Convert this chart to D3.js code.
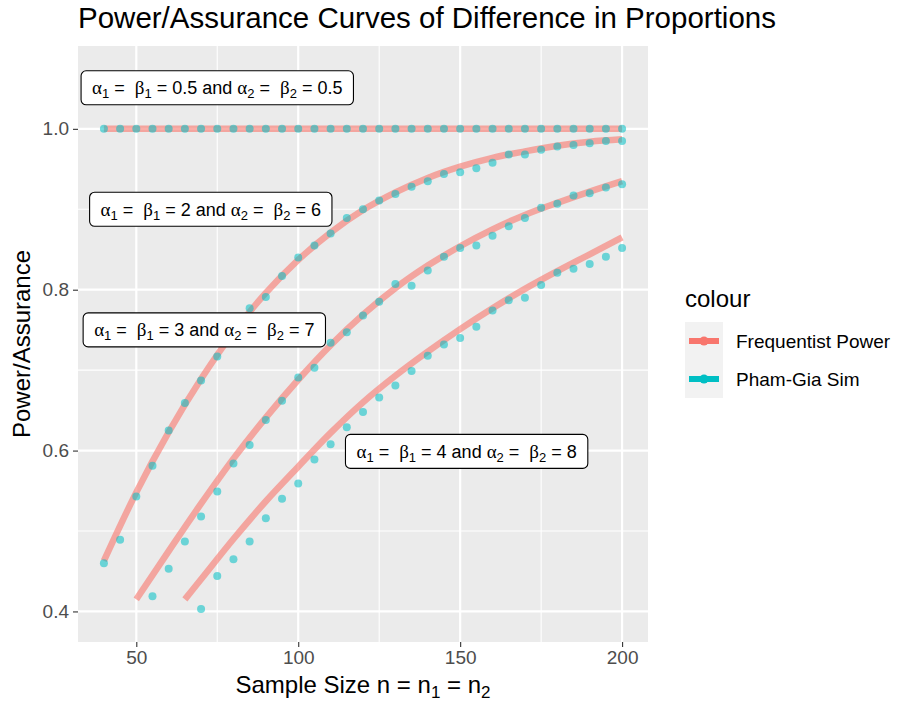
<!DOCTYPE html>
<html>
<head>
<meta charset="utf-8">
<script src="https://cdn.jsdelivr.net/npm/d3@7"></script>
<style>
  body { margin: 0; background: #fff; }
  text { font-family: "Liberation Sans", Arial, Helvetica, sans-serif; }
</style>
</head>
<body>
<script>
// sample sizes used by the simulation (Pham-Gia) points
var simN1 = [40,45,50,55,60,65,70,75,80,85,90,95,100,105,110,115,120,125,130,135,140,145,150,155,160,165,170,175,180,185,190,195,200];
var simY1 = [1,1,1,1,1,1,1,1,1,1,1,1,1,1,1,1,1,1,1,1,1,1,1,1,1,1,1,1,1,1,1,1,1];
var simN2 = simN1;
var simY2 = [0.460,0.489,0.543,0.581,0.625,0.659,0.687,0.717,0.748,0.777,0.791,0.817,0.840,0.855,0.870,0.889,0.900,0.911,0.919,0.928,0.935,0.944,0.946,0.951,0.958,0.968,0.968,0.974,0.978,0.980,0.982,0.985,0.985];
var simN3 = [55,60,65,70,75,80,85,90,95,100,105,110,115,120,125,130,135,140,145,150,155,160,165,170,175,180,185,190,195,200];
var simY3 = [0.419,0.453,0.487,0.518,0.549,0.584,0.607,0.638,0.662,0.691,0.703,0.734,0.747,0.768,0.785,0.807,0.805,0.824,0.841,0.852,0.855,0.867,0.879,0.889,0.902,0.907,0.917,0.920,0.927,0.931];
var simN4 = [70,75,80,85,90,95,100,105,110,115,120,125,130,135,140,145,150,155,160,165,170,175,180,185,190,195,200];
var simY4 = [0.403,0.444,0.465,0.487,0.516,0.540,0.559,0.589,0.608,0.629,0.648,0.666,0.681,0.699,0.718,0.732,0.740,0.754,0.774,0.787,0.790,0.806,0.821,0.826,0.832,0.841,0.852];

// frequentist power curves
var freqN1 = [40,60,80,100,120,140,160,180,200];
var freqY1 = [1,1,1,1,1,1,1,1,1];
var freqN2 = [40,50,60,70,80,90,100,110,120,130,140,150,160,170,180,190,200];
var freqY2 = [0.463,0.548,0.623,0.689,0.747,0.796,0.837,0.871,0.899,0.921,0.939,0.953,0.964,0.972,0.979,0.984,0.987];
var freqN3 = [50,60,70,80,90,100,110,120,130,140,150,160,170,180,190,200];
var freqY3 = [0.415,0.475,0.534,0.590,0.641,0.688,0.731,0.769,0.802,0.830,0.854,0.875,0.893,0.908,0.922,0.935];
var freqN4 = [65,70,80,90,100,110,120,130,140,150,160,170,180,190,200];
var freqY4 = [0.415,0.440,0.490,0.537,0.580,0.622,0.660,0.693,0.723,0.751,0.777,0.801,0.823,0.844,0.865];

// curve labels
var labelX = [75, 73, 71, 152];
var labelY = [1.051, 0.900, 0.750, 0.599];
var labelA = ["0.5", "2", "3", "4"];
var labelB = ["0.5", "6", "7", "8"];

var xTicks = [50, 100, 150, 200], xMinor = [75, 125, 175];
var yTicks = [0.4, 0.6, 0.8, 1.0], yMinor = [0.5, 0.7, 0.9];
var seriesNames = ["Frequentist Power", "Pham-Gia Sim"];
var colours = ["#F8766D", "#00BFC4"];

var W = 897, H = 701;
var pl = 78, pr = 648, pt = 46, pb = 642;

var svg = d3.select("body").append("svg").attr("width", W).attr("height", H);

var x = d3.scaleLinear().domain([32, 208]).range([pl, pr]);
var y = d3.scaleLinear().domain([0.362, 1.103]).range([pb, pt]);

// panel
svg.append("rect").attr("x", pl).attr("y", pt).attr("width", pr - pl).attr("height", pb - pt).attr("fill", "#EBEBEB");

var grid = svg.append("g");
grid.selectAll(".xmin").data(xMinor).enter().append("line")
  .attr("x1", d => x(d)).attr("x2", d => x(d)).attr("y1", pt).attr("y2", pb)
  .attr("stroke", "#fff").attr("stroke-width", 1.1);
grid.selectAll(".ymin").data(yMinor).enter().append("line")
  .attr("y1", d => y(d)).attr("y2", d => y(d)).attr("x1", pl).attr("x2", pr)
  .attr("stroke", "#fff").attr("stroke-width", 1.1);
grid.selectAll(".xmaj").data(xTicks).enter().append("line")
  .attr("x1", d => x(d)).attr("x2", d => x(d)).attr("y1", pt).attr("y2", pb)
  .attr("stroke", "#fff").attr("stroke-width", 2.2);
grid.selectAll(".ymaj").data(yTicks).enter().append("line")
  .attr("y1", d => y(d)).attr("y2", d => y(d)).attr("x1", pl).attr("x2", pr)
  .attr("stroke", "#fff").attr("stroke-width", 2.2);

// axes
var xAxis = svg.append("g").attr("transform", `translate(0,${pb})`)
  .call(d3.axisBottom(x).tickValues(xTicks).tickSize(5).tickPadding(4).tickFormat(d3.format("d")));
var yAxis = svg.append("g").attr("transform", `translate(${pl},0)`)
  .call(d3.axisLeft(y).tickValues(yTicks).tickSize(5).tickPadding(4).tickFormat(d3.format(".1f")));
[xAxis, yAxis].forEach(function(a) {
  a.select(".domain").remove();
  a.selectAll(".tick line").attr("stroke", "#333").attr("stroke-width", 1.1);
  a.selectAll(".tick text").attr("fill", "#4D4D4D").style("font-size", "19px")
    .style("font-family", "'Liberation Sans', Arial, sans-serif");
});

// data
var clip = svg.append("clipPath").attr("id", "clip").append("rect")
  .attr("x", pl).attr("y", pt).attr("width", pr - pl).attr("height", pb - pt);
var plot = svg.append("g").attr("clip-path", "url(#clip)");

var freq = [[freqN1, freqY1], [freqN2, freqY2], [freqN3, freqY3], [freqN4, freqY4]];
var sim = [[simN1, simY1], [simN2, simY2], [simN3, simY3], [simN4, simY4]];

var line = d3.line().x(d => x(d[0])).y(d => y(d[1])).curve(d3.curveMonotoneX);

plot.selectAll(".freq").data(freq).enter().append("path")
  .attr("d", s => line(d3.zip(s[0], s[1])))
  .attr("fill", "none").attr("stroke", colours[0]).attr("stroke-width", 6.5)
  .attr("stroke-opacity", 0.6);

sim.forEach(function(s) {
  plot.append("g").selectAll("circle").data(d3.zip(s[0], s[1])).enter().append("circle")
    .attr("cx", d => x(d[0])).attr("cy", d => y(d[1])).attr("r", 4)
    .attr("fill", colours[1]).attr("fill-opacity", 0.55);
});

// labels
var labs = svg.append("g");
labelX.forEach(function(lx, i) {
  var g = labs.append("g");
  var t = g.append("text").attr("x", x(lx)).attr("y", y(labelY[i]) + 6.5)
    .attr("text-anchor", "middle").style("font-size", "18px").style("white-space", "pre").attr("fill", "#000");
  var parts = [
    ["\u03B1", "g"], ["1", "s"], [" =  ", "n"], ["\u03B2", "g"], ["1", "s"], [" = " + labelA[i] + " and ", "n"],
    ["\u03B1", "g"], ["2", "s"], [" =  ", "n"], ["\u03B2", "g"], ["2", "s"], [" = " + labelB[i], "n"]
  ];
  var shift = 0;
  parts.forEach(function(p) {
    var ts = t.append("tspan").text(p[0]);
    if (p[1] === "g") {
      ts.style("font-family", "'Liberation Serif', 'DejaVu Serif', serif").style("font-size", "19px");
      if (shift) { ts.attr("dy", -shift); shift = 0; }
    } else if (p[1] === "s") {
      ts.style("font-size", "13px").attr("dy", 4); shift = 4;
    } else {
      if (shift) { ts.attr("dy", -shift); shift = 0; }
    }
  });
  var bb = t.node().getBBox();
  var padX = 11, h = 34;
  g.insert("rect", "text")
    .attr("x", bb.x - padX).attr("y", y(labelY[i]) - h / 2)
    .attr("width", bb.width + 2 * padX).attr("height", h)
    .attr("rx", 5).attr("fill", "#fff").attr("stroke", "#000").attr("stroke-width", 1.1);
});

// title
svg.append("text").attr("x", pl).attr("y", 28).style("font-size", "29.5px").attr("fill", "#000")
  .text("Power/Assurance Curves of Difference in Proportions");

// axis titles
var xt = svg.append("text").attr("x", (pl + pr) / 2).attr("y", 693).attr("text-anchor", "middle")
  .style("font-size", "24px").style("white-space", "pre");
xt.append("tspan").text("Sample Size n = n");
xt.append("tspan").text("1").style("font-size", "17px").attr("dy", 5);
xt.append("tspan").text(" = n").attr("dy", -5);
xt.append("tspan").text("2").style("font-size", "17px").attr("dy", 5);

svg.append("text").attr("transform", `translate(30,${(pt + pb) / 2}) rotate(-90)`)
  .attr("text-anchor", "middle").style("font-size", "24px").text("Power/Assurance");

// legend
var lg = svg.append("g").attr("transform", "translate(685,0)");
lg.append("text").attr("x", 0).attr("y", 307).style("font-size", "24px").text("colour");
seriesNames.forEach(function(name, i) {
  var ky = 322 + i * 38;
  lg.append("rect").attr("x", 0).attr("y", ky).attr("width", 38).attr("height", 38).attr("fill", "#F2F2F2");
  lg.append("line").attr("x1", 4).attr("x2", 34).attr("y1", ky + 19).attr("y2", ky + 19)
    .attr("stroke", colours[i]).attr("stroke-width", 6);
  lg.append("circle").attr("cx", 19).attr("cy", ky + 19).attr("r", 4.5).attr("fill", colours[i]);
  lg.append("text").attr("x", 51).attr("y", ky + 26).style("font-size", "19px").text(name);
});
</script>
</body>
</html>
